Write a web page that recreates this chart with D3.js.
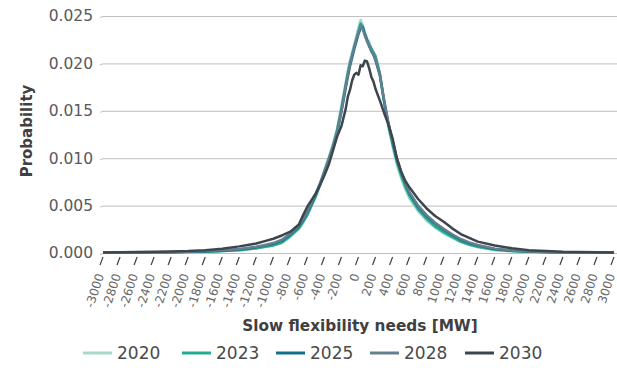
<!DOCTYPE html>
<html>
<head>
<meta charset="utf-8">
<script src="https://cdn.jsdelivr.net/npm/d3@7"></script>
<style>
  html, body { margin: 0; padding: 0; background: #fff; }
  svg { display: block; }
</style>
</head>
<body>
<svg id="chart" width="617" height="368"></svg>
<script>
// ---- data ----
const xValues = [-3000,-2800,-2600,-2400,-2200,-2000,-1800,-1600,-1400,-1300,-1200,-1100,-1000,-900,-800,-700,-650,-600,-550,-500,-450,-400,-350,-300,-250,-200,-150,-125,-100,-75,-50,-25,0,25,50,75,100,125,150,175,200,250,300,350,400,450,500,550,600,700,800,900,1000,1100,1200,1300,1400,1600,1800,2000,2200,2400,2600,2800,3000];

const s2020 = [0.00002,0.00002,0.00003,0.00004,0.00006,0.00009,0.00013,0.00019,0.00028,0.00038,0.00048,0.00062,0.00078,0.00105,0.00170,0.00250,0.00320,0.00410,0.00510,0.00620,0.00740,0.00880,0.01010,0.01150,0.01320,0.01560,0.01800,0.01930,0.02030,0.02120,0.02200,0.02290,0.02380,0.02460,0.02400,0.02330,0.02260,0.02230,0.02150,0.02100,0.02050,0.01870,0.01580,0.01330,0.01120,0.00930,0.00790,0.00670,0.00570,0.00440,0.00340,0.00265,0.00205,0.00160,0.00115,0.00085,0.00060,0.00032,0.00018,0.00011,0.00007,0.00005,0.00004,0.00003,0.00002];

const s2023 = [0.00002,0.00003,0.00004,0.00005,0.00007,0.00010,0.00014,0.00020,0.00030,0.00040,0.00050,0.00065,0.00080,0.00110,0.00180,0.00260,0.00330,0.00400,0.00500,0.00600,0.00720,0.00860,0.00990,0.01130,0.01300,0.01530,0.01780,0.01900,0.02010,0.02080,0.02180,0.02250,0.02340,0.02420,0.02390,0.02300,0.02240,0.02200,0.02160,0.02120,0.02080,0.01900,0.01600,0.01350,0.01150,0.00960,0.00820,0.00700,0.00600,0.00460,0.00360,0.00280,0.00220,0.00170,0.00120,0.00090,0.00065,0.00035,0.00020,0.00012,0.00008,0.00006,0.00004,0.00003,0.00002];

const s2025 = [0.00003,0.00004,0.00005,0.00007,0.00009,0.00012,0.00017,0.00025,0.00038,0.00048,0.00060,0.00078,0.00098,0.00130,0.00195,0.00280,0.00350,0.00430,0.00520,0.00620,0.00730,0.00850,0.00980,0.01110,0.01270,0.01490,0.01740,0.01860,0.01970,0.02060,0.02150,0.02230,0.02310,0.02370,0.02380,0.02310,0.02250,0.02180,0.02130,0.02090,0.02030,0.01880,0.01610,0.01370,0.01170,0.00990,0.00850,0.00730,0.00630,0.00490,0.00390,0.00310,0.00245,0.00190,0.00140,0.00105,0.00078,0.00042,0.00024,0.00015,0.00010,0.00007,0.00005,0.00004,0.00003];

const s2028 = [0.00003,0.00004,0.00006,0.00008,0.00010,0.00014,0.00020,0.00029,0.00042,0.00053,0.00066,0.00085,0.00105,0.00140,0.00205,0.00290,0.00360,0.00440,0.00530,0.00630,0.00740,0.00860,0.00990,0.01120,0.01280,0.01500,0.01760,0.01880,0.01990,0.02090,0.02170,0.02260,0.02330,0.02400,0.02360,0.02290,0.02230,0.02190,0.02140,0.02100,0.02040,0.01890,0.01620,0.01380,0.01180,0.01000,0.00860,0.00740,0.00640,0.00500,0.00400,0.00320,0.00255,0.00198,0.00148,0.00112,0.00084,0.00046,0.00027,0.00017,0.00011,0.00008,0.00006,0.00004,0.00003];

const s2030 = [0.00005,0.00008,0.00010,0.00013,0.00016,0.00021,0.00030,0.00045,0.00070,0.00085,0.00100,0.00125,0.00150,0.00185,0.00225,0.00300,0.00400,0.00490,0.00560,0.00630,0.00720,0.00820,0.00930,0.01080,0.01230,0.01340,0.01520,0.01650,0.01720,0.01820,0.01880,0.01900,0.01880,0.01980,0.01970,0.02030,0.02020,0.01950,0.01860,0.01810,0.01730,0.01610,0.01480,0.01360,0.01210,0.01000,0.00860,0.00760,0.00690,0.00570,0.00470,0.00390,0.00330,0.00260,0.00200,0.00160,0.00120,0.00080,0.00050,0.00030,0.00020,0.00012,0.00010,0.00007,0.00005];

const seriesNames = ["2020","2023","2025","2028","2030"];
const seriesValues = [s2020, s2023, s2025, s2028, s2030];
const seriesColors = ["#a6d9c8","#25ab93","#126f8c","#647f8e","#3d464d"];

const xTickValues = d3.range(-3000, 3001, 200);
const yTickValues = [0, 0.005, 0.010, 0.015, 0.020, 0.025];

const xTitle = "Slow flexibility needs [MW]";
const yTitle = "Probability";

// ---- layout ----
const svg = d3.select("#chart");
const plotL = 103, plotR = 614, plotT = 16, plotB = 253;
const FONT = "'DejaVu Sans', sans-serif";

const x = d3.scaleLinear().domain([-3000, 3000]).range([plotL, plotR]);
const y = d3.scaleLinear().domain([0, 0.025]).range([plotB, plotT]);

// gridlines + y labels
const yAxis = d3.axisLeft(y).tickValues(yTickValues).tickSize(-(617 - plotL)).tickPadding(8)
  .tickFormat(d3.format(".3f"));
const gy = svg.append("g").attr("transform", `translate(${plotL},0)`).call(yAxis);
gy.select(".domain").remove();
gy.selectAll(".tick line").attr("stroke", "#bfbfbf").attr("stroke-width", 1);
gy.selectAll(".tick text").attr("font-family", FONT).attr("font-size", 15.5)
  .attr("fill", "#595959").attr("x", -10);
gy.selectAll(".tick").append("line").attr("x1", -3).attr("x2", 0).attr("y1", 1).attr("y2", 0)
  .attr("stroke", "#bfbfbf");

// x ticks (slanted) and labels
const gx = svg.append("g");
const xt = gx.selectAll("g.xt").data(xTickValues).join("g").attr("class", "xt")
  .attr("transform", d => `translate(${x(d)},0)`);
xt.append("line").attr("x1", -3).attr("y1", 265).attr("x2", 0).attr("y2", 257)
  .attr("stroke", "#404040").attr("stroke-width", 1.2);
xt.append("text")
  .attr("transform", "translate(-3,274) rotate(-72)")
  .attr("text-anchor", "end").attr("dy", "0.35em")
  .attr("font-family", FONT).attr("font-size", 12).attr("fill", "#666666")
  .text(d => d);

// lines
const line = d3.line().x((d, i) => x(xValues[i])).y(d => y(d));
svg.append("g").selectAll("path").data(seriesValues).join("path")
  .attr("d", line).attr("fill", "none")
  .attr("stroke", (d, i) => seriesColors[i]).attr("stroke-width", 2.5)
  .attr("stroke-linejoin", "round");

// axis titles
svg.append("text").attr("x", 360).attr("y", 331).attr("text-anchor", "middle")
  .attr("font-family", FONT).attr("font-weight", "bold").attr("font-size", 15.3)
  .attr("fill", "#404040").text(xTitle);
svg.append("text").attr("transform", "translate(32,131) rotate(-90)").attr("text-anchor", "middle")
  .attr("font-family", FONT).attr("font-weight", "bold").attr("font-size", 15)
  .attr("fill", "#404040").text(yTitle);

// legend
const legendX = [83, 182, 276, 370, 465];
const lg = svg.append("g").selectAll("g").data(seriesNames).join("g")
  .attr("transform", (d, i) => `translate(${legendX[i]},353)`);
lg.append("line").attr("x1", 0).attr("x2", 29).attr("y1", 0).attr("y2", 0)
  .attr("stroke", (d, i) => seriesColors[i]).attr("stroke-width", 3);
lg.append("text").attr("x", 34).attr("y", 0).attr("dy", "0.36em")
  .attr("font-family", FONT).attr("font-size", 17).attr("fill", "#4a4a4a").text(d => d);
</script>
</body>
</html>
